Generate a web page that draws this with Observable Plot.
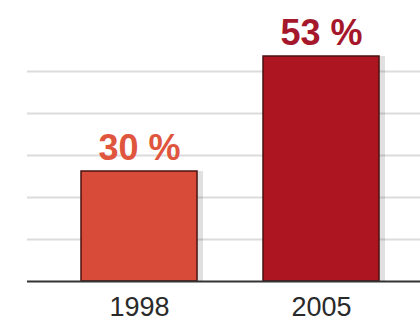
<!DOCTYPE html>
<html>
<head>
<meta charset="utf-8">
<script src="https://cdn.jsdelivr.net/npm/d3@7"></script>
<script src="https://cdn.jsdelivr.net/npm/@observablehq/plot@0.6"></script>
<style>
  html, body { margin: 0; padding: 0; background: #fff; }
  #chart svg { display: block; }
</style>
</head>
<body>
<div id="chart"></div>
<script>
const years = ["1998", "2005"];
const values = [30, 53];
const labels = ["30 %", "53 %"];
const barColors = ["#d94b39", "#ad1620"];
const labelColors = ["#e0553d", "#a5182c"];
const gridValues = [16.4, 24.8, 33.2, 41.6, 50];
const baseValue = 8;

const data = years.map((y, i) => ({year: y, value: values[i], label: labels[i], fill: barColors[i], lc: labelColors[i]}));

const chart = Plot.plot({
  width: 420,
  height: 322,
  marginLeft: 27,
  marginRight: 0,
  marginTop: 0,
  marginBottom: 41,
  style: {fontFamily: "Liberation Sans, Arial, sans-serif", background: "#fff"},
  x: {domain: years, paddingInner: 0.36, paddingOuter: 0.254, align: 0.57, label: null},
  y: {domain: [baseValue, 64.2], axis: null},
  marks: [
    Plot.ruleY(gridValues, {stroke: "#dcdcdc", strokeWidth: 2}),
    Plot.rectY(data, {x: "year", y1: baseValue, y2: "value", fill: "#000", fillOpacity: 0.12, dx: 6}),
    Plot.rectY(data, {x: "year", y1: baseValue, y2: "value", fill: "fill", stroke: "#4a1210", strokeWidth: 1.5}),
    Plot.ruleY([baseValue], {stroke: "#333", strokeWidth: 2}),
    Plot.text(data, {x: "year", y: "value", text: "label", fill: "lc", fontSize: 36, fontWeight: "bold", lineAnchor: "bottom", dy: -12}),
    Plot.axisX({tickSize: 0, tickPadding: 15, fontSize: 27, color: "#2a2a2a", label: null})
  ]
});
document.getElementById("chart").appendChild(chart);
</script>
</body>
</html>
